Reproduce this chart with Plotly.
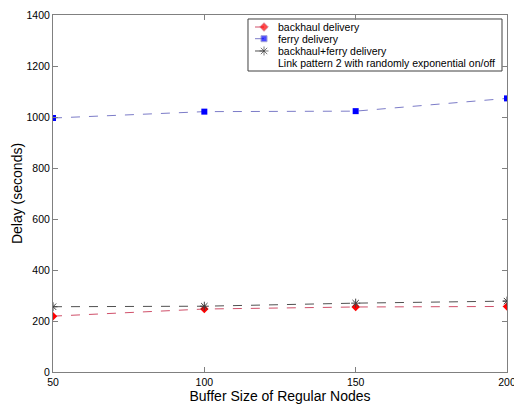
import plotly.graph_objects as go

buffer_sizes = [50, 100, 150, 200]
backhaul = [219, 247, 255, 257]
ferry = [996, 1021, 1023, 1073]
combined = [256, 258, 270, 278]

series_names = ["backhaul delivery", "ferry delivery", "backhaul+ferry delivery"]
note_text = "Link pattern 2 with randomly exponential on/off"

styles = [
    dict(line=dict(color="#d0506a", dash="dash", width=1),
         marker=dict(symbol="diamond", color="#ff0000", size=6.5)),
    dict(line=dict(color="#7c7cc8", dash="dash", width=1),
         marker=dict(symbol="square", color="#0000ff", size=6)),
    dict(line=dict(color="#505050", dash="dash", width=1),
         marker=dict(symbol="asterisk-open", color="#404040", size=7.5, line=dict(width=1, color="#404040"))),
]

fig = go.Figure()
for name, vals, st in zip(series_names, [backhaul, ferry, combined], styles):
    fig.add_trace(go.Scatter(x=buffer_sizes, y=vals, name=name, mode="lines+markers",
                             line=st["line"], marker=st["marker"], showlegend=False))

# compact legend (layout positions in plot-area fractions)
box_x0, box_x1, box_y0, box_y1 = 0.4295, 0.989, 0.8431, 0.9888
row_y = [0.9664, 0.9336, 0.8992, 0.8655]
samp_x = [0.445, 0.4648, 0.4846]
text_x = 0.491

fig.add_shape(type="rect", xref="x domain", yref="y domain", x0=box_x0, x1=box_x1, y0=box_y0, y1=box_y1,
              line=dict(color="#404040", width=1), fillcolor="white", layer="below")
for name, st, ry in zip(series_names, styles, row_y):
    m = dict(st["marker"])
    m["size"] = [0, st["marker"]["size"], 0]
    fig.add_trace(go.Scatter(x=samp_x, y=[ry, ry, ry], xaxis="x2", yaxis="y2", mode="lines+markers",
                             line=st["line"], marker=m, showlegend=False, hoverinfo="skip"))
for txt, ry in zip(series_names + [note_text], row_y):
    fig.add_annotation(text=txt, xref="x domain", yref="y domain", x=text_x, y=ry,
                       xanchor="left", yanchor="middle", showarrow=False, font=dict(size=10.5))

axis_common = dict(showgrid=False, zeroline=False, showline=True, linecolor="#808080", mirror="ticks",
                   ticks="inside", ticklen=5, tickcolor="#808080", automargin=False,
                   ticklabeloverflow="allow")

fig.update_layout(
    width=514, height=404,
    margin=dict(l=53, r=7, t=15, b=32),
    paper_bgcolor="white", plot_bgcolor="white",
    font=dict(family="Arial, Liberation Sans, sans-serif", color="#000000", size=10.5),
    showlegend=False,
    xaxis=dict(range=[50, 200], tickvals=[50, 100, 150, 200], **axis_common,
               title=dict(text="Buffer Size of Regular Nodes", font=dict(size=14), standoff=1)),
    yaxis=dict(range=[0, 1400], tickvals=[0, 200, 400, 600, 800, 1000, 1200, 1400], **axis_common,
               title=dict(text="Delay (seconds)", font=dict(size=14), standoff=0)),
    xaxis2=dict(overlaying="x", anchor="y2", range=[0, 1], visible=False, fixedrange=True),
    yaxis2=dict(overlaying="y", anchor="x2", range=[0, 1], visible=False, fixedrange=True),
)

fig.write_html("out.html", config={"displayModeBar": False},
               post_script="document.body.style.margin='0';")
